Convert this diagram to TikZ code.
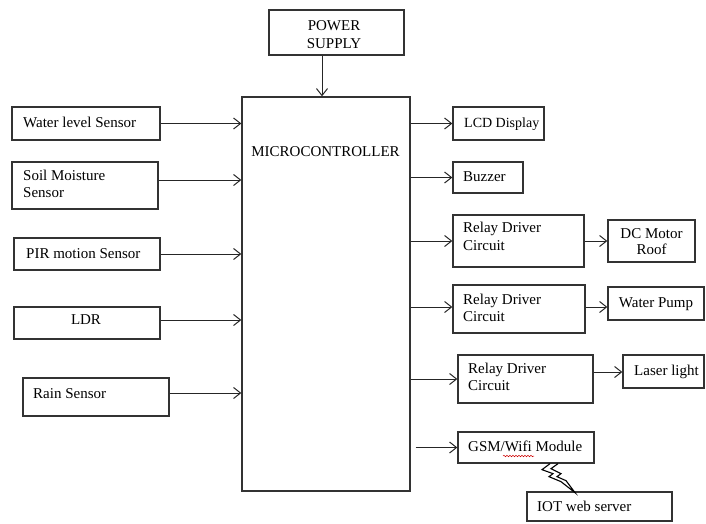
\documentclass[tikz,border=0pt]{standalone}
\usepackage{fontspec}
\setmainfont{Liberation Serif}
\usetikzlibrary{arrows.meta,decorations.pathmorphing}
\begin{document}
\begin{tikzpicture}[x=1pt,y=-1pt,
  box/.style={draw=black!80,line width=1.3pt,inner sep=0pt,rectangle},
  txt/.style={inner sep=0pt,font=\fontsize{15}{17.5}\selectfont},
  arr/.style={draw=black!85,line width=1pt,-{Straight Barb[length=7pt,width=11pt,line width=1pt]}}]
\useasboundingbox (0,0) rectangle (706,523);
% boxes
\node[box,minimum width=135pt,minimum height=45pt] (ps) at (336.5,32.5) {};
\node[box,minimum width=168pt,minimum height=394pt] (mc) at (326,294) {};
\node[box,minimum width=148pt,minimum height=33pt] (wl) at (86,123.5) {};
\node[box,minimum width=146pt,minimum height=47pt] (sm) at (85,185.5) {};
\node[box,minimum width=146pt,minimum height=32pt] (pir) at (87,254) {};
\node[box,minimum width=146pt,minimum height=32pt] (ldr) at (87,323) {};
\node[box,minimum width=146pt,minimum height=38pt] (rain) at (96,397) {};
\node[box,minimum width=91pt,minimum height=33pt] (lcd) at (498.5,123.5) {};
\node[box,minimum width=70pt,minimum height=31pt] (buz) at (488,177.5) {};
\node[box,minimum width=131pt,minimum height=52pt] (r1) at (518.5,241) {};
\node[box,minimum width=87pt,minimum height=42pt] (dc) at (651.5,241) {};
\node[box,minimum width=132pt,minimum height=48pt] (r2) at (519,309) {};
\node[box,minimum width=96pt,minimum height=33pt] (wp) at (656,303.5) {};
\node[box,minimum width=135pt,minimum height=48pt] (r3) at (525.5,379) {};
\node[box,minimum width=81pt,minimum height=33pt] (las) at (663.5,371.5) {};
\node[box,minimum width=136pt,minimum height=31pt] (gsm) at (526,447.5) {};
\node[box,minimum width=145pt,minimum height=29pt] (iot) at (599.5,506.5) {};
% texts
\node[txt,align=center] (ps-t) at (334,36) {\strut POWER\\\strut SUPPLY};
\node[txt] (mc-t) at (325.5,152.5) {\strut MICROCONTROLLER};
\node[txt,anchor=west] (wl-t) at (23,124) {\strut Water level Sensor};
\node[txt,anchor=west,align=left] (sm-t) at (23,185.5) {\strut Soil Moisture\\\strut Sensor};
\node[txt,anchor=west] (pir-t) at (26,255) {\strut PIR motion Sensor};
\node[txt] (ldr-t) at (86,321) {\strut LDR};
\node[txt,anchor=west] (rain-t) at (33,395) {\strut Rain Sensor};
\node[txt,anchor=west,font=\fontsize{14}{17.5}\selectfont] (lcd-t) at (464,124) {\strut LCD Display};
\node[txt,anchor=west] (buz-t) at (463,178) {\strut Buzzer};
\node[txt,anchor=west,align=left] (r1-t) at (463,238) {\strut Relay Driver\\\strut Circuit};
\node[txt,align=center,font=\fontsize{15}{16}\selectfont] (dc-t) at (651.5,243) {\strut DC Motor\\\strut Roof};
\node[txt,anchor=west,align=left] (r2-t) at (463,309.5) {\strut Relay Driver\\\strut Circuit};
\node[txt] (wp-t) at (656,304) {\strut Water Pump};
\node[txt,anchor=west,align=left] (r3-t) at (468,378.5) {\strut Relay Driver\\\strut Circuit};
\node[txt,anchor=west] (las-t) at (634,372) {\strut Laser light};
\node[txt,anchor=west] (gsm-t) at (468,448) {\strut GSM/Wifi Module};
\node[txt,anchor=west] (iot-t) at (537,508) {\strut IOT web server};
% spell-check squiggle
\draw[red!80!black,line width=0.5pt,decorate,decoration={snake,amplitude=0.7pt,segment length=3pt}] (503,456) -- (534,456);
% connectors
\draw[arr] ([xshift=-14.5pt]ps.south) -- ([xshift=-14.5pt]ps.south |- mc.north);
\draw[arr] (wl.east) -- (wl.east -| mc.west);
\draw[arr] ([yshift=5.5pt]sm.east) -- ([yshift=5.5pt]sm.east -| mc.west);
\draw[arr] (pir.east) -- (pir.east -| mc.west);
\draw[arr] ([yshift=3pt]ldr.east) -- ([yshift=3pt]ldr.east -| mc.west);
\draw[arr] ([yshift=4pt]rain.east) -- ([yshift=4pt]rain.east -| mc.west);
\draw[arr] (lcd.west -| mc.east) -- (lcd.west);
\draw[arr] (buz.west -| mc.east) -- (buz.west);
\draw[arr] (r1.west -| mc.east) -- (r1.west);
\draw[arr] (r1.east) -- (r1.east -| dc.west);
\draw[arr] ([yshift=2pt]r2.west -| mc.east) -- ([yshift=2pt]r2.west);
\draw[arr] ([yshift=2pt]r2.east) -- ([yshift=2pt]r2.east -| wp.west);
\draw[arr] (r3.west -| mc.east) -- (r3.west);
\draw[arr] ([yshift=7pt]r3.east) -- ([yshift=7pt]r3.east -| las.west);
\draw[arr] ([xshift=5pt]gsm.west -| mc.east) -- (gsm.west);
% lightning bolt between GSM module and IOT server
\begin{scope}[shift={(gsm.south)}]
\draw[black,line width=1.1pt,line join=miter] (24,0) -- (16,6) -- (27,10) -- (23,13) -- (35,18) -- (49,29) -- (40,17) -- (31,13) -- (35,10) -- (25,5) -- (32,0);
\end{scope}
\end{tikzpicture}
\end{document}
